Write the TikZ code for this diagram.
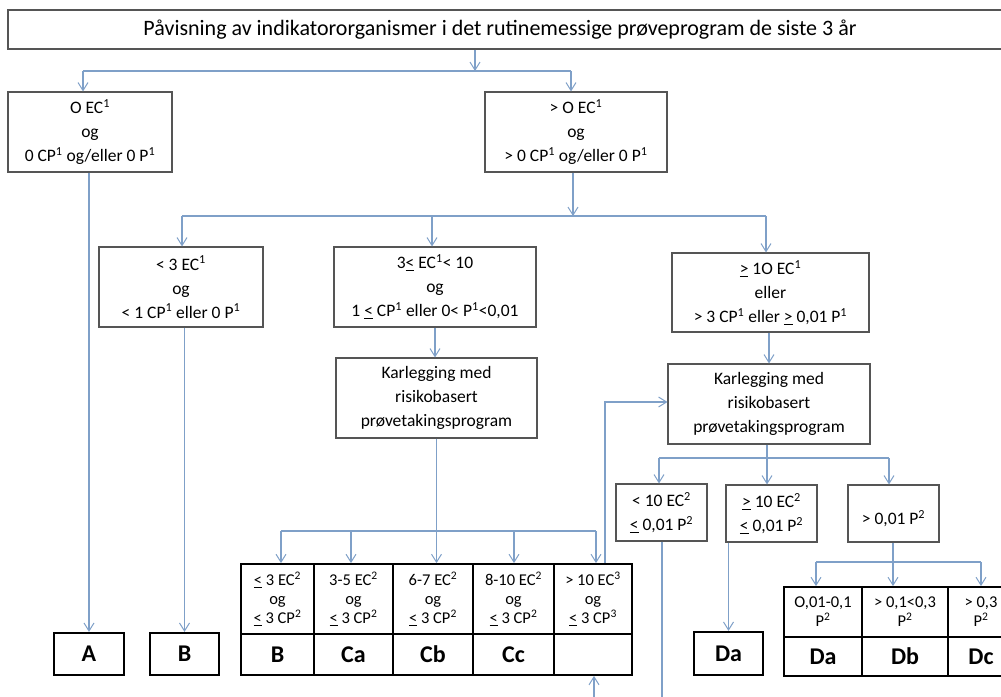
\documentclass[tikz,border=0pt]{standalone}
\usepackage{fontspec}
\setmainfont{Carlito}
\usetikzlibrary{arrows.meta}
\definecolor{linec}{RGB}{127,160,200}
\definecolor{boxc}{RGB}{85,85,85}
\newcommand{\myle}{\underline{<}}
\newcommand{\myge}{\underline{>}}
\newcommand{\sps}[1]{\textsuperscript{#1}}
\begin{document}
\begin{tikzpicture}[x=1pt,y=-1pt,
  conn/.style={draw=linec, line width=1.1pt},
  arr/.style={conn, -{Straight Barb[length=8pt,width=10pt,line width=1pt]}},
  box/.style={draw=boxc, line width=1.1pt, align=center, inner sep=0pt, font=\fontsize{17.5}{24}\selectfont},
  res/.style={draw=black, line width=2.2pt, inner sep=0pt, font=\bfseries\fontsize{24}{28}\selectfont},
  cell/.style={draw=black, line width=1.8pt, align=center, inner sep=0pt, font=\fontsize{16.5}{19}\selectfont},
  rcell/.style={draw=black, line width=1.8pt, inner sep=0pt, font=\bfseries\fontsize{24}{28}\selectfont}]
\useasboundingbox (0,0) rectangle (1001,696);
\clip (0,0) rectangle (1001,696);
% title
\node[box, minimum width=1002pt, minimum height=39pt, font=\fontsize{22}{26}\selectfont] (title) at (509,29.5)
  {\hspace*{-18pt}Påvisning av indikatororganismer i det rutinemessige prøveprogram de siste 3 år};
% level 1
\node[box, minimum width=164pt, minimum height=80pt] (b0) at (90,132)
  {O EC\sps{1}\\og\\0 CP\sps{1} og/eller 0 P\sps{1}};
\node[box, minimum width=182pt, minimum height=80pt] (b1) at (576,132)
  {> O EC\sps{1}\\og\\> 0 CP\sps{1} og/eller 0 P\sps{1}};
% level 2
\node[box, minimum width=164pt, minimum height=80pt] (c1) at (181,287)
  {< 3 EC\sps{1}\\og\\< 1 CP\sps{1} eller 0 P\sps{1}};
\node[box, minimum width=202pt, minimum height=80pt] (c2) at (435,287)
  {3\myle{} EC\sps{1}< 10\\og\\1 \myle{} CP\sps{1} eller 0< P\sps{1}<0,01};
\node[box, minimum width=197pt, minimum height=79pt] (c3) at (770.5,292.5)
  {\myge{} 1O EC\sps{1}\\eller\\> 3 CP\sps{1} eller \myge{} 0,01 P\sps{1}};
% karlegging
\node[box, minimum width=201pt, minimum height=80pt] (k1) at (436.5,398)
  {Karlegging med\\risikobasert\\prøvetakingsprogram};
\node[box, minimum width=202pt, minimum height=80pt] (k2) at (769,404)
  {Karlegging med\\risikobasert\\prøvetakingsprogram};
% level D
\node[box, minimum width=91pt, minimum height=57pt] (d1) at (661.5,512.5)
  {< 10 EC\sps{2}\\\myle{} 0,01 P\sps{2}};
\node[box, minimum width=91pt, minimum height=57pt] (d2) at (771.5,513.5)
  {\myge{} 10 EC\sps{2}\\\myle{} 0,01 P\sps{2}};
\node[box, minimum width=91pt, minimum height=57pt] (d3) at (893.5,513.5)
  {\\> 0,01 P\sps{2}};
% results
\node[res, minimum width=70pt, minimum height=42pt] (A) at (89,654) {A};
\node[res, minimum width=69pt, minimum height=42pt] (B) at (184.5,654) {B};
\node[res, minimum width=69pt, minimum height=43pt] (Da) at (728.5,653.5) {Da};
% C table
\node[cell, minimum width=73pt, minimum height=70pt] (C1) at (277.5,599) {\myle{} 3 EC\sps{2}\\og\\\myle{} 3 CP\sps{2}};
\node[cell, minimum width=79pt, minimum height=70pt] (C2) at (353.5,599) {3-5 EC\sps{2}\\og\\\myle{} 3 CP\sps{2}};
\node[cell, minimum width=80pt, minimum height=70pt] (C3) at (433,599) {6-7 EC\sps{2}\\og\\\myle{} 3 CP\sps{2}};
\node[cell, minimum width=81pt, minimum height=70pt] (C4) at (513.5,599) {8-10 EC\sps{2}\\og\\\myle{} 3 CP\sps{2}};
\node[cell, minimum width=78pt, minimum height=70pt] (C5) at (593,599) {> 10 EC\sps{3}\\og\\\myle{} 3 CP\sps{3}};
\node[rcell, minimum width=73pt, minimum height=41pt] (C1b) at (277.5,654.5) {B};
\node[rcell, minimum width=79pt, minimum height=41pt] (C2b) at (353.5,654.5) {Ca};
\node[rcell, minimum width=80pt, minimum height=41pt] (C3b) at (433,654.5) {Cb};
\node[rcell, minimum width=81pt, minimum height=41pt] (C4b) at (513.5,654.5) {Cc};
\node[rcell, minimum width=78pt, minimum height=41pt] (C5b) at (593,654.5) {};
% D table
\node[cell, minimum width=78pt, minimum height=50pt] (D1) at (823,612) {O,01-0,1\\P\sps{2}};
\node[cell, minimum width=86pt, minimum height=50pt] (D2) at (905,612) {> 0,1<0,3\\P\sps{2}};
\node[cell, minimum width=66pt, minimum height=50pt] (D3) at (981,612) {> 0,3\\P\sps{2}};
\node[rcell, minimum width=78pt, minimum height=39pt] (D1b) at (823,656.5) {Da};
\node[rcell, minimum width=86pt, minimum height=39pt] (D2b) at (905,656.5) {Db};
\node[rcell, minimum width=66pt, minimum height=39pt] (D3b) at (981,656.5) {Dc};
% connectors: title
\coordinate (j0) at (475,71);
\coordinate (h0l) at (83,71);
\coordinate (h0r) at (571,71);
\draw[arr] (title.south -| j0) -- (j0);
\draw[conn] (h0l) -- (h0r);
\draw[arr] (h0l) -- (h0l |- b0.north);
\draw[arr] (h0r) -- (h0r |- b1.north);
% b0 -> A
\draw[arr] (b0.south -| A.north) -- (A.north);
% b1 -> level 2
\coordinate (j1) at (573,216);
\coordinate (h1l) at (182,216);
\coordinate (h1m) at (432,216);
\coordinate (h1r) at (766,216);
\draw[arr] (b1.south -| j1) -- (j1);
\draw[conn] (h1l) -- (h1r);
\draw[arr] (h1l) -- (h1l |- c1.north);
\draw[arr] (h1m) -- (h1m |- c2.north);
\draw[arr] (h1r) -- (h1r |- c3.north);
% c1 -> B
\draw[arr] (c1.south -| B.north) -- (B.north);
% c2 -> k1, c3 -> k2
\draw[arr] (c2.south) -- (c2.south |- k1.north);
\draw[arr] (c3.south -| k2.north) -- (k2.north);
% k1 -> C table
\coordinate (h2l) at (281,531);
\coordinate (h2a) at (351,531);
\coordinate (h2c) at (514,531);
\coordinate (h2r) at (596,531);
\draw[arr] (k1.south) -- (k1.south |- C3.north);
\draw[conn] (h2l) -- (h2r);
\draw[arr] (h2l) -- (h2l |- C1.north);
\draw[arr] (h2a) -- (h2a |- C2.north);
\draw[arr] (h2c) -- (h2c |- C4.north);
\draw[arr] (h2r) -- (h2r |- C5.north);
% loop back to k2
\coordinate (lp) at (605,402);
\draw[arr] (C5.north -| lp) -- (lp) -- (lp -| k2.west);
% k2 -> D boxes
\coordinate (j3) at (767,458);
\coordinate (h3l) at (659,458);
\coordinate (h3r) at (889,458);
\draw[arr] (k2.south -| j3) -- (j3 |- d2.north);
\draw[conn] (h3l) -- (h3r);
\draw[arr] (h3l) -- (h3l |- d1.north);
\draw[arr] (h3r) -- (h3r |- d3.north);
% d1 down (off picture), up arrow into empty cell
\coordinate (e1) at (662,720);
\coordinate (e2) at (594,720);
\draw[conn] (d1.south -| e1) -- (e1);
\draw[arr] (e2) -- (e2 |- C5b.south);
% d2 -> Da
\draw[arr] (d2.south -| Da.north) -- (Da.north);
% d3 -> D table
\coordinate (j4) at (893,562);
\coordinate (h4l) at (816,562);
\coordinate (h4r) at (981,562);
\draw[arr] (d3.south -| j4) -- (j4 |- D2.north);
\draw[conn] (h4l) -- (h4r);
\draw[arr] (h4l) -- (h4l |- D1.north);
\draw[arr] (h4r) -- (h4r |- D3.north);
\end{tikzpicture}
\end{document}
